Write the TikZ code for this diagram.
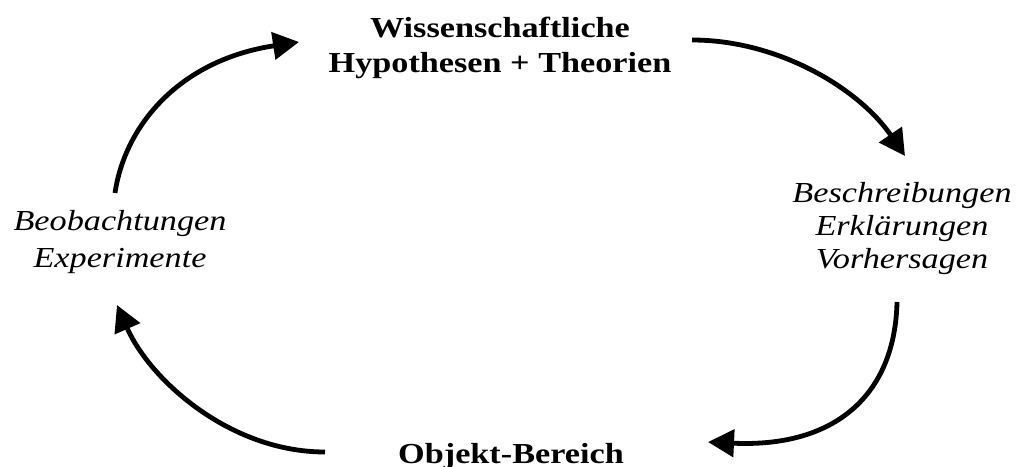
\documentclass[tikz,border=0pt]{standalone}
\usepackage{fontspec}
\setmainfont[FakeStretch=1.18]{Liberation Serif}
\usetikzlibrary{arrows.meta}
\tikzset{
  lbl/.style={inner sep=0pt, align=center, font=\fontsize{29}{35}\selectfont},
  bold/.style={lbl, font=\fontsize{29}{35}\selectfont\bfseries},
  ital/.style={lbl, font=\fontsize{29}{33}\selectfont\itshape},
  itall/.style={lbl, font=\fontsize{29}{37}\selectfont\itshape},
  flow/.style={line width=4.8pt, -{Triangle[length=26pt,width=27pt]}}
}
\begin{document}
\begin{tikzpicture}[x=1pt,y=-1pt]
\useasboundingbox (0,0) rectangle (1019,466);
\node[bold, anchor=base] (hyp) at (500,72) {Wissenschaftliche\\Hypothesen + Theorien};
\node[ital, anchor=base] (beschr) at (902,268) {Beschreibungen\\Erklärungen\\Vorhersagen};
\node[itall, anchor=base] (beob) at (120,267) {Beobachtungen\\Experimente};
\node[bold, anchor=base] (obj) at (511,463) {Objekt-Bereich};
% arrow end points
\coordinate (a1s) at (115,193);
\coordinate (a1e) at (299,42);
\coordinate (a2s) at (692,40);
\coordinate (a2e) at (905,156);
\coordinate (a3s) at (897,302);
\coordinate (a3e) at (708,442);
\coordinate (a4s) at (325,452);
\coordinate (a4e) at (117,305);
\draw[flow] (a1s) .. controls (125,125) and (180,60) .. (a1e);
\draw[flow] (a2s) .. controls (780,40) and (860,90) .. (a2e);
\draw[flow] (a3s) .. controls (895,395) and (835,448) .. (a3e);
\draw[flow] (a4s) .. controls (230,452) and (150,380) .. (a4e);
\end{tikzpicture}
\end{document}
